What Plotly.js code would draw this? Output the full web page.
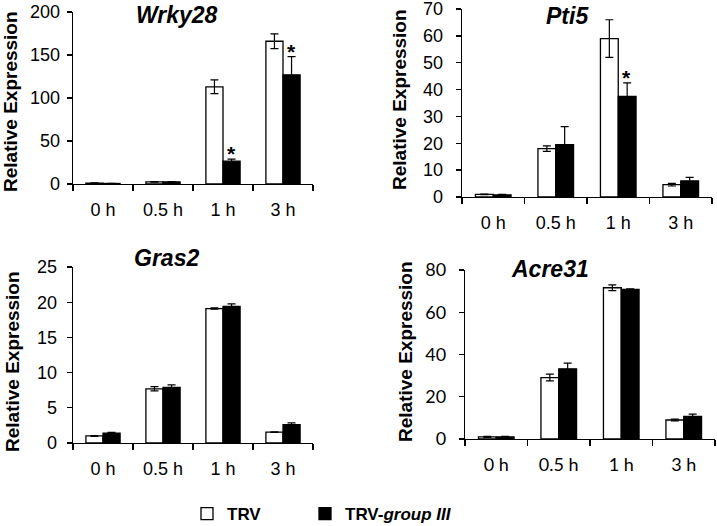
<!DOCTYPE html>
<html>
<head>
<meta charset="utf-8">
<script src="https://cdn.plot.ly/plotly-3.0.1.min.js"></script>
<style>html,body{margin:0;padding:0;background:#fff;}#chart{width:717px;height:526px;}</style>
</head>
<body>
<div id="chart"></div>
<script>
// ---- data ----
const categories = ["0 h", "0.5 h", "1 h", "3 h"];
const seriesNames = ["TRV", "TRV-group III"];

const wrky28_trv = [1.0, 2.5, 113, 166];
const wrky28_trv_err = [0.3, 0.3, 8, 8.5];
const wrky28_grp = [0.6, 2.5, 26.5, 127];
const wrky28_grp_err = [0.2, 0.3, 2.5, 21];
const wrky28_sig = [false, false, true, true];

const pti5_trv = [1.0, 18, 59, 4.6];
const pti5_trv_err = [0.1, 1.0, 7, 0.5];
const pti5_grp = [0.8, 19.5, 37.5, 6.0];
const pti5_grp_err = [0.2, 6.7, 5, 1.3];
const pti5_sig = [false, false, true, false];

const gras2_trv = [1.0, 7.7, 19.1, 1.55];
const gras2_trv_err = [0.05, 0.3, 0.1, 0.05];
const gras2_grp = [1.4, 7.9, 19.4, 2.6];
const gras2_grp_err = [0.1, 0.35, 0.35, 0.25];
const gras2_sig = [false, false, false, false];

const acre31_trv = [1.0, 29.1, 71.6, 9.0];
const acre31_trv_err = [0.2, 1.6, 1.4, 0.4];
const acre31_grp = [1.0, 33.2, 70.8, 10.7];
const acre31_grp_err = [0.2, 2.7, 0.3, 1.1];
const acre31_sig = [false, false, false, false];

const panels = [
  {gene: "Wrky28", trv: wrky28_trv, trvErr: wrky28_trv_err, grp: wrky28_grp, grpErr: wrky28_grp_err, sig: wrky28_sig, ymax: 200, dtick: 50},
  {gene: "Pti5", trv: pti5_trv, trvErr: pti5_trv_err, grp: pti5_grp, grpErr: pti5_grp_err, sig: pti5_sig, ymax: 70, dtick: 10},
  {gene: "Gras2", trv: gras2_trv, trvErr: gras2_trv_err, grp: gras2_grp, grpErr: gras2_grp_err, sig: gras2_sig, ymax: 25, dtick: 5},
  {gene: "Acre31", trv: acre31_trv, trvErr: acre31_trv_err, grp: acre31_grp, grpErr: acre31_grp_err, sig: acre31_sig, ymax: 80, dtick: 20}
];

// ---- layout geometry ----
const W = 717, H = 526;
const boxes = [ // left, right, top, bottom in px
  [73, 313, 12, 184],
  [462, 712, 9, 197],
  [73, 313, 267, 443],
  [465, 715, 270, 439]
];
const titlePos = [[177, 15], [567, 16], [166, 258], [550, 269]];
const ytitlePos = [[10, 102], [400, 100], [12, 362], [405, 352]];
const yStandoff = [3, 9, 6, 9];

const ARIAL = "Liberation Sans, Arial, sans-serif";
const CAL = "Lato, Carlito, Calibri, sans-serif";

const traces = [];
const annotations = [];
const legendFont = {family: ARIAL, size: 17, color: "#000"};
const layout = {
  width: W, height: H,
  margin: {l: 0, r: 0, t: 0, b: 0, autoexpand: false},
  paper_bgcolor: "#fff", plot_bgcolor: "#fff",
  barmode: "group", bargap: 0.43, bargroupgap: 0,
  showlegend: true,
  legend: {x: 187 / W, y: 1 - 514 / H, xanchor: "left", yanchor: "middle", orientation: "h",
           font: legendFont, bgcolor: "rgba(0,0,0,0)", borderwidth: 0},
  legend2: {x: 305 / W, y: 1 - 514 / H, xanchor: "left", yanchor: "middle", orientation: "h",
           font: legendFont, bgcolor: "rgba(0,0,0,0)", borderwidth: 0},
  annotations: annotations
};

panels.forEach((p, i) => {
  const n = i === 0 ? "" : String(i + 1);
  const xa = "x" + n, ya = "y" + n;
  const b = boxes[i];
  const tickFont = i === 3 ? {family: CAL, size: 18, color: "#000"} : {family: ARIAL, size: 18, color: "#000"};
  layout["xaxis" + n] = {
    domain: [b[0] / W, b[1] / W], anchor: ya, type: "category",
    range: [-0.5, 3.5], showline: true, linecolor: "#000", linewidth: 1.3,
    ticks: "outside", tickson: "boundaries", ticklen: 6, tickcolor: "#000", tickwidth: 1.3,
    showgrid: false, zeroline: false, tickfont: tickFont, ticklabelstandoff: 9,
    automargin: false, fixedrange: true
  };
  layout["yaxis" + n] = {
    domain: [1 - b[3] / H, 1 - b[2] / H], anchor: xa,
    range: [0, p.ymax], dtick: p.dtick, tick0: 0,
    showline: true, linecolor: "#000", linewidth: 1.3,
    ticks: "outside", ticklen: 5, tickcolor: "#000", tickwidth: 1.3,
    showgrid: false, zeroline: false, tickfont: tickFont, ticklabelstandoff: yStandoff[i],
    ticklabeloverflow: "allow", automargin: false, fixedrange: true
  };
  traces.push({
    type: "bar", x: categories, y: p.trv, xaxis: xa, yaxis: ya, name: "<b>" + seriesNames[0] + "</b>",
    marker: {color: "#fff", line: {color: "#000", width: 1.3}},
    error_y: {type: "data", array: p.trvErr, visible: true, color: "#000", thickness: 1.2, width: 4},
    showlegend: i === 0, legend: "legend", hoverinfo: "skip"
  });
  traces.push({
    type: "bar", x: categories, y: p.grp, xaxis: xa, yaxis: ya, name: "<b>TRV-<i>group III</i></b>",
    marker: {color: "#000", line: {color: "#000", width: 1.3}},
    error_y: {type: "data", array: p.grpErr, visible: true, color: "#000", thickness: 1.2, width: 4},
    showlegend: i === 0, legend: "legend2", hoverinfo: "skip"
  });
  // gene title
  annotations.push({
    text: "<b><i>" + p.gene + "</i></b>", xref: "paper", yref: "paper",
    x: titlePos[i][0] / W, y: 1 - titlePos[i][1] / H, xanchor: "center", yanchor: "middle",
    showarrow: false, font: {family: ARIAL, size: 23, color: "#000"}
  });
  // y title
  annotations.push({
    text: "<b>Relative Expression</b>", xref: "paper", yref: "paper", textangle: -90,
    x: ytitlePos[i][0] / W, y: 1 - ytitlePos[i][1] / H, xanchor: "center", yanchor: "middle",
    showarrow: false, font: {family: ARIAL, size: 19, color: "#000"}
  });
  // significance asterisks
  p.sig.forEach((s, k) => {
    if (!s) return;
    annotations.push({
      text: "<b>*</b>", xref: xa, yref: ya, x: categories[k], y: p.grp[k] + p.grpErr[k],
      xshift: 8.5, yshift: -8, xanchor: "center", yanchor: "bottom", showarrow: false,
      font: {family: ARIAL, size: 21, color: "#000"}
    });
  });
});

Plotly.newPlot("chart", traces, layout, {staticPlot: true, displayModeBar: false});
</script>
</body>
</html>
